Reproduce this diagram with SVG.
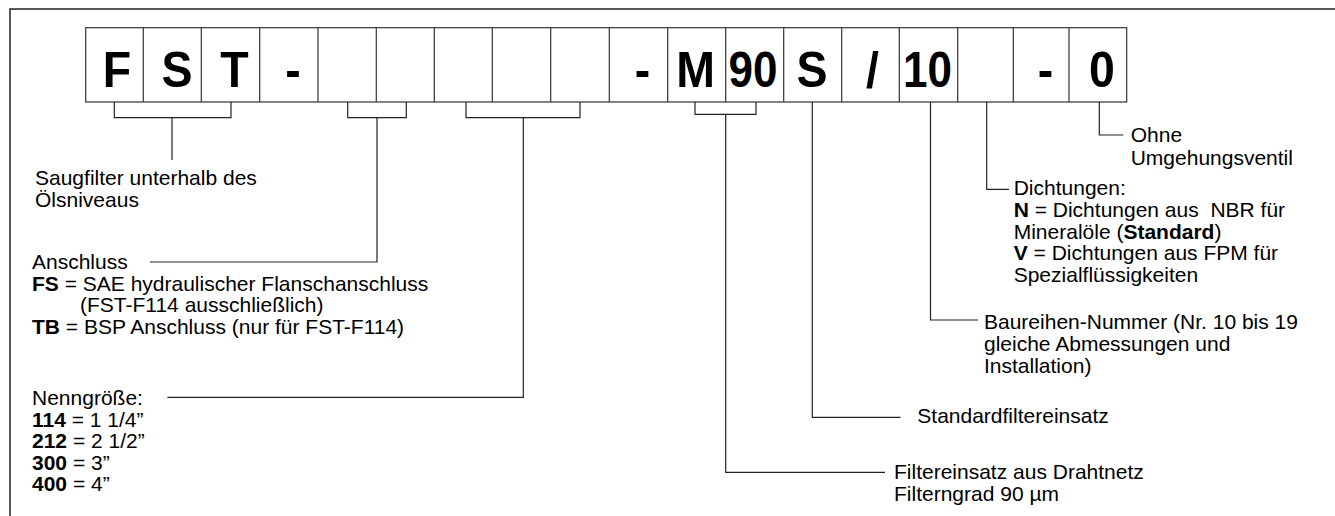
<svg xmlns="http://www.w3.org/2000/svg" width="1335" height="516" viewBox="0 0 1335 516">
<style>
.frame{fill:none;stroke:#222;stroke-width:1.5}
.cell{fill:#fff;stroke:#333;stroke-width:1.2}
.code{font-family:"Liberation Sans",Arial,sans-serif;font-weight:bold;font-size:50px;fill:#000;text-anchor:middle}
.lbl{font-family:"Liberation Sans",Arial,sans-serif;font-size:21px;fill:#000}
.b{font-weight:bold}
.con{fill:none;stroke:#222;stroke-width:1.2}
</style>
<rect x="0" y="0" width="1335" height="516" fill="#fff"/>
<rect class="frame" x="10" y="9" width="1340" height="520"/>
<g id="code">
<rect class="cell" x="85.7" y="27.7" width="1041" height="74.3"/>
<path class="cell" d="M143.3 27.7V102M201.3 27.7V102M259.7 27.7V102M318 27.7V102M376.3 27.7V102M434.3 27.7V102M492.3 27.7V102M550.7 27.7V102M609.3 27.7V102M667.7 27.7V102M725.7 27.7V102M783.7 27.7V102M841.7 27.7V102M899.3 27.7V102M957.7 27.7V102M1013.3 27.7V102M1069 27.7V102"/>
<text class="code" transform="translate(117 87) scale(0.93 1)">F</text>
<text class="code" transform="translate(177 87) scale(0.93 1)">S</text>
<text class="code" transform="translate(234.5 87) scale(0.93 1)">T</text>
<text class="code" transform="translate(293 87) scale(0.93 1)">-</text>
<text class="code" transform="translate(642.5 87) scale(0.93 1)">-</text>
<text class="code" transform="translate(695.5 87) scale(0.93 1)">M</text>
<text class="code" transform="translate(753 87) scale(0.88 1)">90</text>
<text class="code" transform="translate(812 87) scale(0.93 1)">S</text>
<text class="code" transform="translate(872.5 87) scale(0.93 1)">/</text>
<text class="code" transform="translate(927.5 87) scale(0.88 1)">10</text>
<text class="code" transform="translate(1045.5 87) scale(0.93 1)">-</text>
<text class="code" transform="translate(1102 87) scale(0.93 1)">0</text>
</g>
<g id="connectors">
<path class="con" d="M114.3 102V117.7H231V102M172 117.7V160"/>
<path class="con" d="M347.7 102V117.7H406.3V102M377 117.7V262H150"/>
<path class="con" d="M466 102V117.7H580V102M523.3 117.7V397.3H167.4"/>
<path class="con" d="M695 102V114.3H756V102M725.7 114.3V472.3H885"/>
<path class="con" d="M812.3 102V417.3H900.5"/>
<path class="con" d="M930.5 102V320H978"/>
<path class="con" d="M986.7 102V189.3H1009"/>
<path class="con" d="M1099.3 102V135H1123.3"/>
</g>
<g id="saugfilter">
<text class="lbl" x="35" y="184.7">Saugfilter unterhalb des</text>
<text class="lbl" x="35" y="206.5">Ölsniveaus</text>
</g>
<g id="anschluss">
<text class="lbl" x="32" y="269">Anschluss</text>
<text class="lbl" x="32" y="290.5"><tspan class="b">FS</tspan> = SAE hydraulischer Flanschanschluss</text>
<text class="lbl" x="80" y="312">(FST-F114 ausschließlich)</text>
<text class="lbl" x="32" y="333.5"><tspan class="b">TB</tspan> = BSP Anschluss (nur für FST-F114)</text>
</g>
<g id="nenngroesse">
<text class="lbl" x="32" y="405">Nenngröße:</text>
<text class="lbl" x="32" y="426.5"><tspan class="b">114</tspan> = 1 1/4”</text>
<text class="lbl" x="32" y="448"><tspan class="b">212</tspan> = 2 1/2”</text>
<text class="lbl" x="32" y="469.5"><tspan class="b">300</tspan> = 3”</text>
<text class="lbl" x="32" y="491"><tspan class="b">400</tspan> = 4”</text>
</g>
<g id="filtereinsatz">
<text class="lbl" x="894" y="479">Filtereinsatz aus Drahtnetz</text>
<text class="lbl" x="894" y="501">Filterngrad 90 µm</text>
</g>
<g id="standardfilter">
<text class="lbl" x="917.3" y="423">Standardfiltereinsatz</text>
</g>
<g id="baureihe">
<text class="lbl" x="984" y="328.5">Baureihen-Nummer (Nr. 10 bis 19</text>
<text class="lbl" x="984" y="350.5">gleiche Abmessungen und</text>
<text class="lbl" x="984" y="372.5">Installation)</text>
</g>
<g id="dichtungen">
<text class="lbl" x="1013.7" y="195">Dichtungen:</text>
<text class="lbl" x="1013.7" y="216.8" xml:space="preserve"><tspan class="b">N</tspan> = Dichtungen aus  NBR für</text>
<text class="lbl" x="1013.7" y="238.5">Mineralöle (<tspan class="b">Standard</tspan>)</text>
<text class="lbl" x="1013.7" y="260.2"><tspan class="b">V</tspan> = Dichtungen aus FPM für</text>
<text class="lbl" x="1013.7" y="282">Spezialflüssigkeiten</text>
</g>
<g id="umgehungsventil">
<text class="lbl" x="1130.7" y="142.3">Ohne</text>
<text class="lbl" x="1130.7" y="165">Umgehungsventil</text>
</g>
</svg>
